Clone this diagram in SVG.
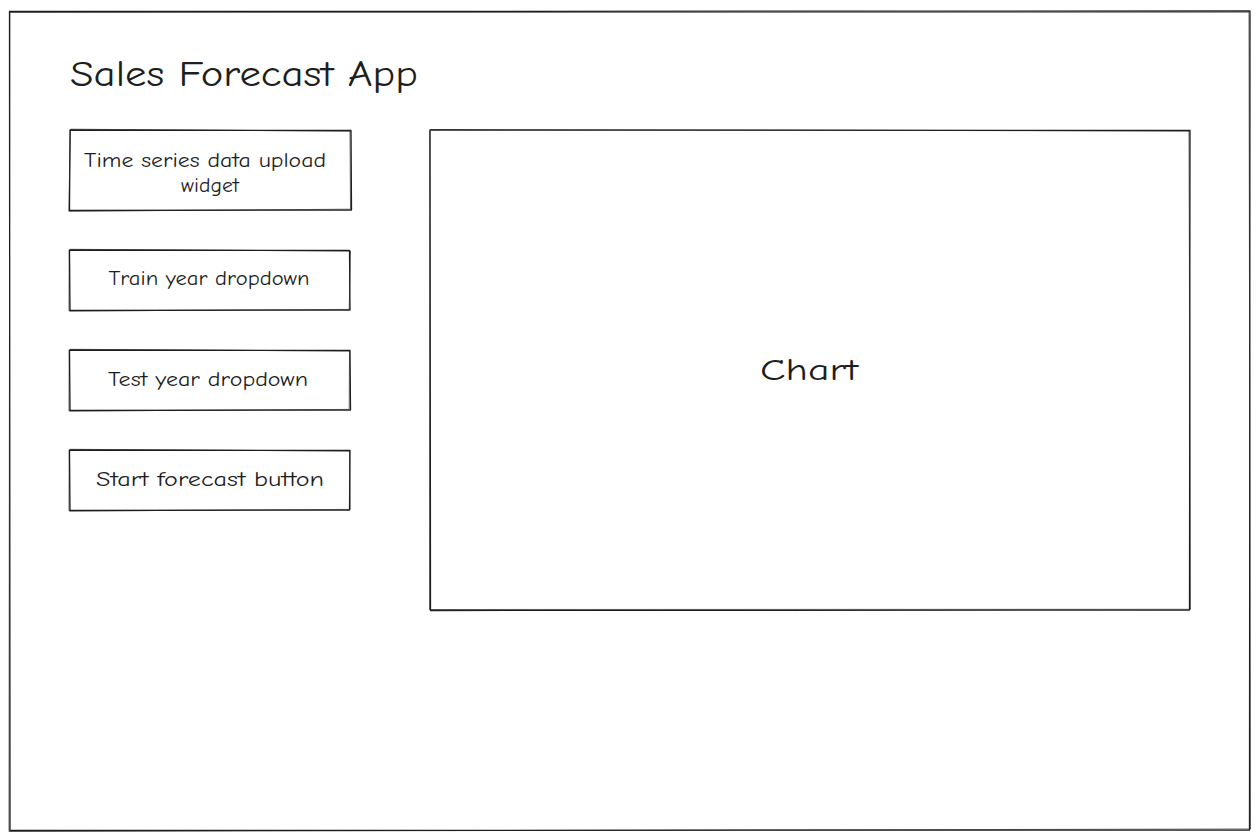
<svg xmlns="http://www.w3.org/2000/svg" width="1260" height="840" viewBox="0 0 1260 840">
  <style>
    .sk { fill: none; stroke: #1e1e1e; stroke-width: 1.3; stroke-linecap: round; stroke-linejoin: round; }
    .sk2 { fill: none; stroke: #1e1e1e; stroke-width: 0.9; stroke-opacity: 0.75; stroke-linecap: round; }
    .lbl { font-family: "Comic Neue", "Open Sans", "Liberation Sans", sans-serif; fill: #1e1e1e; text-anchor: middle; }
    .title { font-family: "Comic Neue", "Open Sans", "Liberation Sans", sans-serif; fill: #1e1e1e; }
  </style>
  <rect width="1260" height="840" fill="#ffffff"/>

  <!-- page frame -->
  <g id="frame">
    <path class="sk" d="M9.5 11.5 L1250 11 L1249.5 830 L10 830.5 Z"/>
    <path class="sk2" d="M10.5 12.5 L1249 12.2 L1250.5 829 L9 831.5 L9.8 12"/>
  </g>

  <g id="title">
    <text class="title" x="70" y="86" font-size="36" textLength="348" lengthAdjust="spacingAndGlyphs">Sales Forecast App</text>
  </g>

  <g id="upload-widget">
    <path class="sk" d="M70 130 L351 130.5 L351.5 210 L69.5 210.5 Z"/>
    <path class="sk2" d="M71 129.2 L350 131.2 L350.5 209.2 L68.8 211.2 L70.5 130"/>
    <text class="lbl" x="205" y="167" font-size="20" textLength="242" lengthAdjust="spacingAndGlyphs">Time series data upload</text>
    <text class="lbl" x="210" y="192" font-size="20" textLength="58" lengthAdjust="spacingAndGlyphs">widget</text>
  </g>

  <g id="train-year">
    <path class="sk" d="M69.5 250 L349.5 250.5 L350 310 L70 310.5 Z"/>
    <path class="sk2" d="M70.5 249.3 L350.5 251 L349.2 309.4 L69 311 L69.2 250.5"/>
    <text class="lbl" x="209" y="285" font-size="20" textLength="201" lengthAdjust="spacingAndGlyphs">Train year dropdown</text>
  </g>

  <g id="test-year">
    <path class="sk" d="M69.5 350 L350 350.5 L350.5 410 L70 410.5 Z"/>
    <path class="sk2" d="M70.5 349.3 L349.5 351 L349.2 409.4 L69 411 L69.2 350.5"/>
    <text class="lbl" x="208" y="386" font-size="20" textLength="200" lengthAdjust="spacingAndGlyphs">Test year dropdown</text>
  </g>

  <g id="start-button">
    <path class="sk" d="M69.5 450 L350 450.5 L349.5 510 L70 510.5 Z"/>
    <path class="sk2" d="M70.5 449.3 L349.5 451 L350.2 509.4 L69 511 L69.2 450.5"/>
    <text class="lbl" x="210" y="486" font-size="20" textLength="228" lengthAdjust="spacingAndGlyphs">Start forecast button</text>
  </g>

  <g id="chart">
    <path class="sk" d="M430 130 L1190 130.5 L1189.5 610 L430.5 610.5 Z"/>
    <path class="sk2" d="M431 129.5 L1189 131 L1190.5 609.3 L429.5 609.5 L429.8 131"/>
    <text class="lbl" x="809" y="380" font-size="30" textLength="98" lengthAdjust="spacingAndGlyphs">Chart</text>
  </g>

  <g id="connectors"/>
</svg>
